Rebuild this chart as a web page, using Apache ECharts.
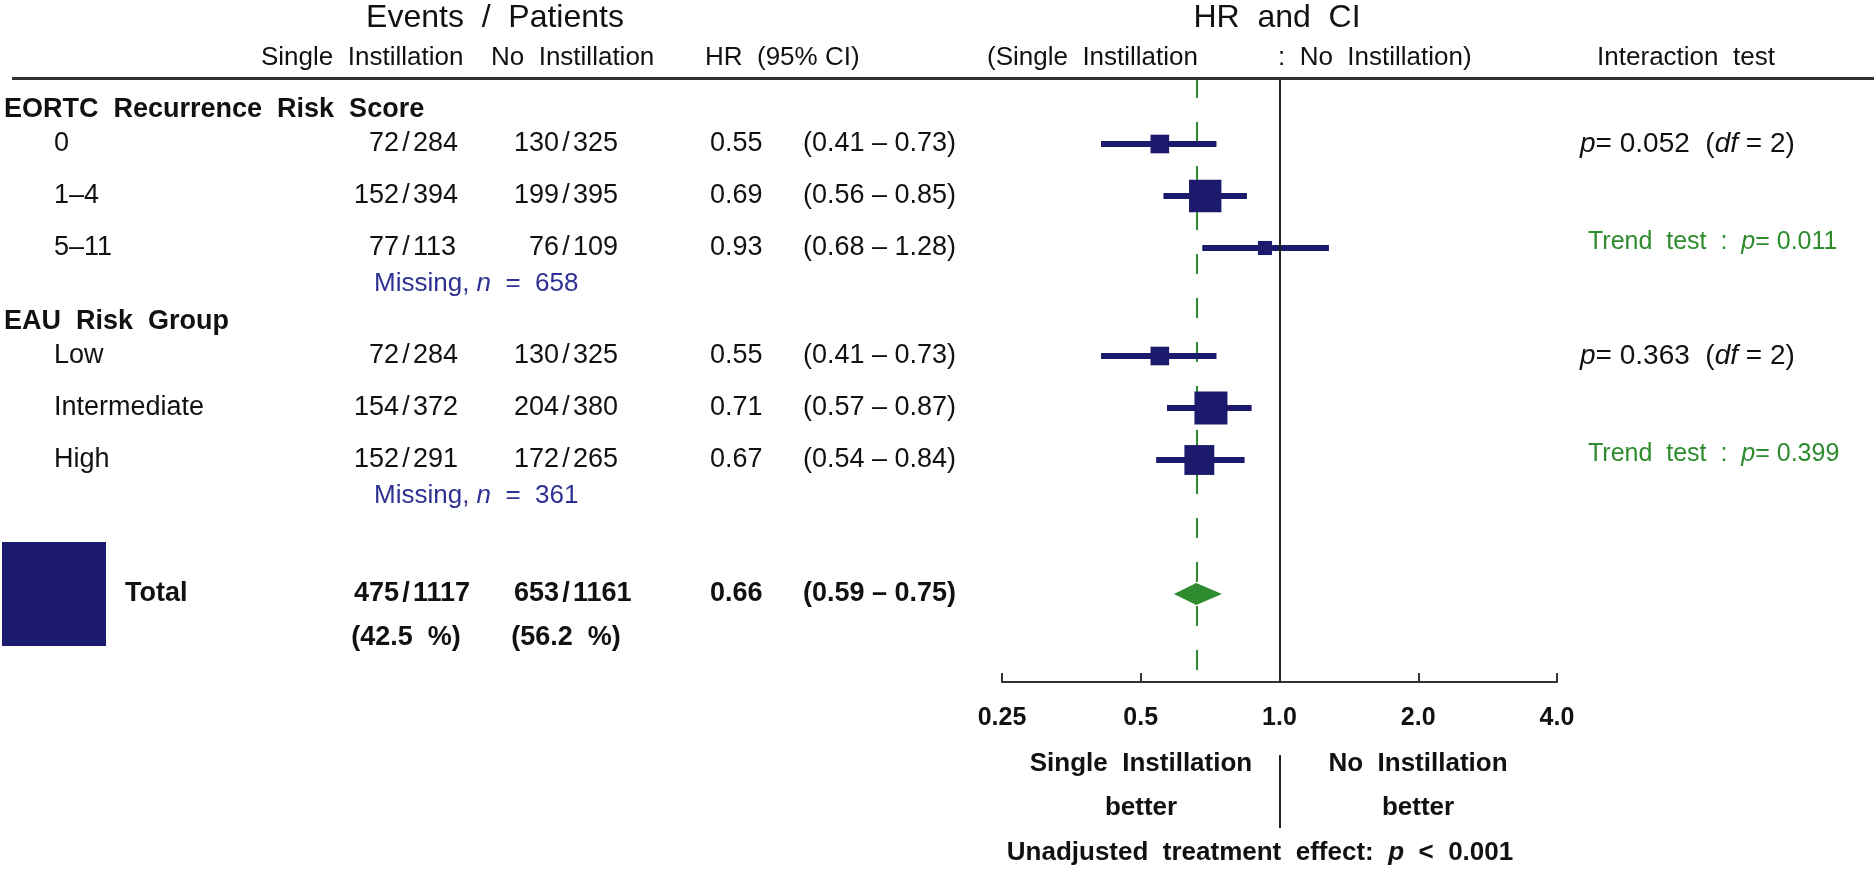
<!DOCTYPE html>
<html><head><meta charset="utf-8">
<script src="https://cdn.jsdelivr.net/npm/echarts@6/dist/echarts.min.js"></script>
<style>html,body{margin:0;padding:0;background:#fff}#c{width:1874px;height:872px}</style>
</head><body><div id="c"></div>
<script>
// ---------------- data ----------------
const groupNames = ['EORTC Recurrence Risk Score', 'EAU Risk Group'];
const subgroupLabels = [['0', '1\u20134', '5\u201311'], ['Low', 'Intermediate', 'High']];
const eventsSingle = [[72, 152, 77], [72, 154, 152]];
const patientsSingle = [[284, 394, 113], [284, 372, 291]];
const eventsNo = [[130, 199, 76], [130, 204, 172]];
const patientsNo = [[325, 395, 109], [325, 380, 265]];
const hrValues = [[0.55, 0.69, 0.93], [0.55, 0.71, 0.67]];
const ciLow = [[0.41, 0.56, 0.68], [0.41, 0.57, 0.54]];
const ciHigh = [[0.73, 0.85, 1.28], [0.73, 0.87, 0.84]];
const missingN = [658, 361];
const interactionP = ['0.052', '0.363'];
const interactionDf = [2, 2];
const trendP = ['0.011', '0.399'];
const totalEvents = [475, 653];
const totalPatients = [1117, 1161];
const totalPct = ['42.5', '56.2'];
const totalHR = [0.66, 0.59, 0.75]; // HR, lower, upper
const overallP = '0.001';
const tickValues = [0.25, 0.5, 1, 2, 4];
const tickLabels = ['0.25', '0.5', '1.0', '2.0', '4.0'];

// ---------------- layout / style ----------------
const W = 1874, H = 872, TOP = 78, AXIS_Y = 682, ROW = 52;
const U = px => (px - TOP) / ROW;           // pixel row -> row units
const FONT = '"Liberation Sans", Arial, Helvetica, sans-serif';
const NAVY = '#1b1a6c', GREEN = '#2e8b2e', BLUE = '#2e3192', INK = '#111111';
const sizeK = 104 / (totalEvents[0] + totalEvents[1]); // square side per event

const groupStart = [U(144), U(356)];
const totalY = U(594), pctY = U(638);
const col = { grp: 4, sub: 54, slash1: 406, slash2: 566, hr: 710, ci: 803, inter: 1580, trend: 1588 };

const texts = [];
function T(x, y, text, opt) {
  texts.push({ value: [x, y], label: Object.assign({
    show: true, formatter: text, position: 'inside', align: 'left', verticalAlign: 'middle',
    fontSize: 27, color: INK, fontFamily: FONT }, opt || {}) });
}
function frac(x, y, a, b, opt) {
  T(x - 7, y, String(a), Object.assign({ align: 'right' }, opt));
  T(x, y, '/', Object.assign({ align: 'center' }, opt));
  T(x + 7, y, String(b), Object.assign({ align: 'left' }, opt));
}

// headers
T(495, U(18), 'Events  /  Patients', { align: 'center', fontSize: 32 });
T(1277, U(18), 'HR  and  CI', { align: 'center', fontSize: 32 });
T(261, U(58), 'Single  Instillation', { fontSize: 26 });
T(491, U(58), 'No  Instillation', { fontSize: 26 });
T(705, U(58), 'HR  (95% CI)', { fontSize: 26 });
T(987, U(58), '(Single  Instillation', { fontSize: 26 });
T(1278, U(58), ':  No  Instillation)', { fontSize: 26 });
T(1686, U(58), 'Interaction  test', { align: 'center', fontSize: 26 });

const forestRows = [], ciRows = [];
groupNames.forEach((g, gi) => {
  const y0 = groupStart[gi];
  T(col.grp, y0 - 0.66, g.replace(/ /g, '  '), { fontWeight: 'bold', fontSize: 27 });
  subgroupLabels[gi].forEach((s, i) => {
    const y = y0 + i;
    T(col.sub, y, s, {});
    frac(col.slash1, y, eventsSingle[gi][i], patientsSingle[gi][i], {});
    frac(col.slash2, y, eventsNo[gi][i], patientsNo[gi][i], {});
    T(col.hr, y, hrValues[gi][i].toFixed(2), {});
    T(col.ci, y, '(' + ciLow[gi][i].toFixed(2) + ' \u2013 ' + ciHigh[gi][i].toFixed(2) + ')', {});
    forestRows.push([hrValues[gi][i], y, sizeK * (eventsSingle[gi][i] + eventsNo[gi][i])]);
    ciRows.push([ciLow[gi][i], ciHigh[gi][i], y]);
  });
  T(374, y0 + 2.69, 'Missing, {i|n}  =  ' + missingN[gi], { color: BLUE, fontSize: 26 });
  T(col.inter, y0, '{i|p}= ' + interactionP[gi] + '  ({i|df} = ' + interactionDf[gi] + ')', { fontSize: 28 });
  T(col.trend, y0 + 2 - 0.12, 'Trend  test  :  {i|p}= ' + trendP[gi], { color: GREEN, fontSize: 25 });
});

// total row
T(125, totalY, 'Total', { fontWeight: 'bold' });
frac(col.slash1, totalY, totalEvents[0], totalPatients[0], { fontWeight: 'bold' });
frac(col.slash2, totalY, totalEvents[1], totalPatients[1], { fontWeight: 'bold' });
T(col.slash1, pctY, '(' + totalPct[0] + '  %)', { fontWeight: 'bold', align: 'center' });
T(col.slash2, pctY, '(' + totalPct[1] + '  %)', { fontWeight: 'bold', align: 'center' });
T(col.hr, totalY, totalHR[0].toFixed(2), { fontWeight: 'bold' });
T(col.ci, totalY, '(' + totalHR[1].toFixed(2) + ' \u2013 ' + totalHR[2].toFixed(2) + ')', { fontWeight: 'bold' });

// bottom annotations
T(1141, U(764), 'Single  Instillation', { fontWeight: 'bold', align: 'center', fontSize: 26 });
T(1141, U(808), 'better', { fontWeight: 'bold', align: 'center', fontSize: 26 });
T(1418, U(764), 'No  Instillation', { fontWeight: 'bold', align: 'center', fontSize: 26 });
T(1418, U(808), 'better', { fontWeight: 'bold', align: 'center', fontSize: 26 });
T(1260, U(853), 'Unadjusted  treatment  effect:  {i|p}  <  ' + overallP, { fontWeight: 'bold', align: 'center', fontSize: 26 });

const rich = { i: { fontStyle: 'italic' } };

const chart = echarts.init(document.getElementById('c'), null, { renderer: 'canvas' });
chart.setOption({
  animation: false,
  backgroundColor: '#fff',
  grid: [
    { left: 1002, top: TOP, width: 555, height: AXIS_Y - TOP },
    { left: 0, top: 0, width: W, height: H }
  ],
  xAxis: [
    { type: 'log', logBase: 2, min: 0.25, max: 4, gridIndex: 0, splitNumber: 4, position: 'bottom',
      axisLine: { show: true, onZero: false, lineStyle: { color: '#333', width: 2 } },
      axisTick: { show: true, inside: true, length: 9, lineStyle: { color: '#333', width: 2 } },
      minorTick: { show: false }, splitLine: { show: false },
      axisLabel: { margin: 24, fontSize: 25, fontWeight: 'bold', color: INK, fontFamily: FONT,
        formatter: v => { const i = tickValues.findIndex(t => Math.abs(t - v) < 1e-6); return i >= 0 ? tickLabels[i] : ''; } } },
    { type: 'value', min: 0, max: W, gridIndex: 1, show: false }
  ],
  yAxis: [
    { type: 'value', inverse: true, min: 0, max: U(AXIS_Y), gridIndex: 0, show: false },
    { type: 'value', inverse: true, min: U(0), max: U(H), gridIndex: 1, show: false }
  ],
  series: [
    { type: 'custom', xAxisIndex: 0, yAxisIndex: 0, silent: true, z: 3,
      encode: { x: [0, 1], y: 2 }, data: ciRows,
      renderItem: (p, api) => {
        const a = api.coord([api.value(0), api.value(2)]);
        const b = api.coord([api.value(1), api.value(2)]);
        return { type: 'line', shape: { x1: a[0], y1: a[1], x2: b[0], y2: b[1] }, style: { stroke: NAVY, lineWidth: 6 } };
      },
      markLine: { silent: true, symbol: ['none', 'none'], label: { show: false }, z: 2,
        data: [ { xAxis: totalHR[0], lineStyle: { color: GREEN, type: [20, 24], width: 2 } } ] } },
    { type: 'scatter', xAxisIndex: 0, yAxisIndex: 0, silent: true, z: 4, symbol: 'rect',
      symbolSize: v => v[2], itemStyle: { color: NAVY, opacity: 1 }, data: forestRows,
      markLine: { silent: true, symbol: ['none', 'none'], label: { show: false },
        data: [ { xAxis: 1, lineStyle: { color: '#222', type: 'solid', width: 2 } } ] } },
    { type: 'custom', xAxisIndex: 0, yAxisIndex: 0, silent: true, z: 4,
      encode: { x: [0, 1, 2], y: 3 }, data: [[totalHR[0], totalHR[1], totalHR[2], totalY]],
      renderItem: (p, api) => {
        const y = api.value(3);
        const c = api.coord([api.value(0), y]), l = api.coord([api.value(1), y]), r = api.coord([api.value(2), y]);
        const h = 11;
        return { type: 'polygon', shape: { points: [[l[0], l[1]], [c[0], c[1] - h], [r[0], r[1]], [c[0], c[1] + h]] }, style: { fill: GREEN } };
      } },
    { type: 'scatter', xAxisIndex: 1, yAxisIndex: 1, silent: true, symbol: 'rect',
      symbolSize: v => v[2], itemStyle: { color: NAVY, opacity: 1 },
      data: [[54, totalY, sizeK * (totalEvents[0] + totalEvents[1])]] },
    { type: 'scatter', xAxisIndex: 1, yAxisIndex: 1, silent: true, symbolSize: 0, z: 5,
      itemStyle: { opacity: 1 },
      label: { show: true, rich: rich }, data: texts,
      markLine: { silent: true, symbol: ['none', 'none'], label: { show: false },
        data: [
          [ { coord: [12, 0], lineStyle: { color: '#333', width: 3, type: 'solid' } }, { coord: [W, 0] } ],
          [ { coord: [1280, U(755)], lineStyle: { color: '#222', width: 2, type: 'solid' } }, { coord: [1280, U(828)] } ]
        ] } }
  ]
});
</script></body></html>
